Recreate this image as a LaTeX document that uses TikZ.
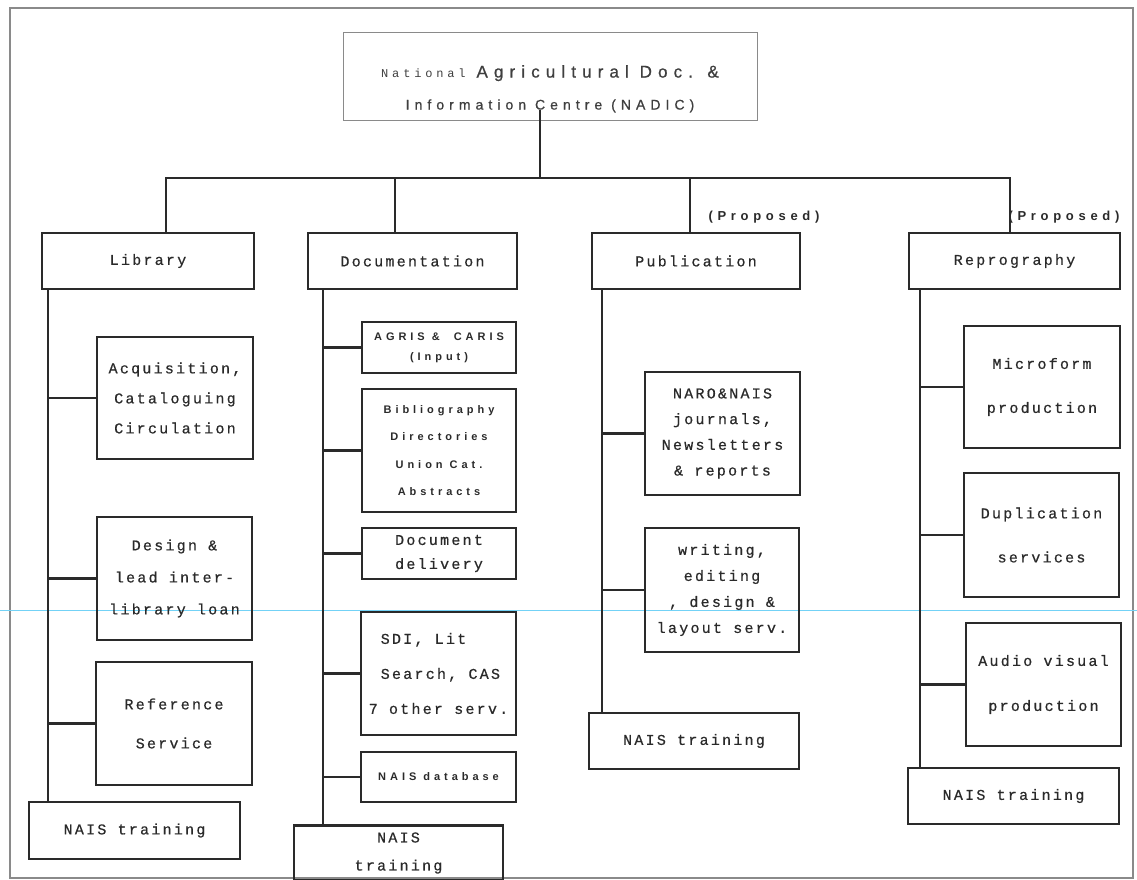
\documentclass[tikz,border=0pt]{standalone}
\usepackage{fontspec}
\newfontfamily\typew[LetterSpace=15,FakeBold=0.6]{Liberation Mono}
\newfontfamily\typewide[LetterSpace=32]{Liberation Mono}
\newfontfamily\sansw[LetterSpace=36]{Liberation Sans}
\newfontfamily\sanshead[LetterSpace=36,FakeBold=0.8]{Liberation Sans}
\definecolor{ink}{HTML}{2A2A2A}
\definecolor{frame}{HTML}{8A8A8A}

\begin{document}
\begin{tikzpicture}[x=1pt, y=-1pt,
    every node/.style = {shape=rectangle, draw=ink, line width=2.4pt,
      align=center, inner sep=0pt, text=ink},
    sz/.style 2 args = {minimum width=#1, minimum height=#2},
    twf/.style 2 args = {font=\typew\fontsize{#1}{#2}\selectfont},
    sbf/.style 2 args = {font=\sansw\bfseries\fontsize{#1}{#2}\selectfont}]
    \tikzstyle{wire}=[draw=ink, line width=2.4pt]

    \useasboundingbox (0,0) rectangle (1137,880);
    \draw[frame, line width=2.5pt] (10,8) rectangle (1133,878);
    \draw[cyan!55, line width=0.8pt] (0,610) -- (1137,610);

    % head of the chart
    \node[sz={414}{88}, draw=frame, line width=1pt, text=ink!90,
      font=\sanshead\fontsize{17}{32}\selectfont] (title) at (550,77)
      {\rule{0pt}{36pt}{\typewide\fontsize{12}{32}\selectfont National} Agricultural Doc. \&\\
       {\fontsize{14}{32}\selectfont Information Centre (NADIC)}};

    % divisions
    \node[sz={212}{56}, twf={15}{20}] (lib) at (148,261) {Library};
    \node[sz={209}{56}, twf={15}{20}] (doc) at (412.5,261) {Documentation};
    \node[sz={208}{56}, twf={15}{20}] (pub) at (696,261) {Publication};
    \node[sz={211}{56}, twf={15}{20}] (rep) at (1014.5,261) {Reprography};
    \node[draw=none, sbf={13}{14}] (propPub) at (764,217) {(Proposed)};
    \node[draw=none, sbf={13}{14}] (propRep) at (1064,217) {(Proposed)};

    % library
    \node[sz={156}{122}, twf={15}{30}] (acq) at (175,398) {Acquisition,\\Cataloguing\\Circulation};
    \node[sz={155}{123}, twf={15}{32}] (ill) at (174.5,578.5) {Design \&\\lead inter-\\library loan};
    \node[sz={156}{123}, twf={15}{39}] (ref) at (174,723.5) {Reference\\Service};
    \node[sz={211}{57}, twf={15}{20}] (libT) at (134.5,830.5) {NAIS training};

    % documentation
    \node[sz={154}{51}, sbf={11}{20}] (agr) at (439,347.5) {AGRIS \& \ CARIS\\(Input)};
    \node[sz={154}{123}, sbf={11}{27.5}] (bib) at (439,450.5) {Bibliography\\Directories\\Union Cat.\\Abstracts};
    \node[sz={154}{51}, twf={15}{24}] (ddl) at (439,553.5) {Document\\delivery};
    \node[sz={155}{123}, twf={15}{35}, align=left] (sdi) at (438.5,673.5)
      {\hspace{12pt}SDI, Lit\\\hspace{12pt}Search, CAS\\7 other serv.};
    \node[sz={155}{50}, sbf={11}{14}] (ndb) at (438.5,777) {NAIS database};
    \node[sz={209}{55}, twf={15}{28}] (docT) at (398.5,853) {NAIS\\training};

    % publication
    \node[sz={155}{123}, twf={15}{25.7}] (naro) at (722.5,433.5) {NARO\&NAIS\\journals,\\Newsletters\\\& reports};
    \node[sz={154}{124}, twf={15}{26}] (wri) at (722,590) {writing,\\editing\\, design \&\\layout serv.};
    \node[sz={210}{56}, twf={15}{20}] (pubT) at (694,741) {NAIS training};

    % reprography
    \node[sz={156}{122}, twf={15}{44}] (mic) at (1042,387) {Microform\\production};
    \node[sz={155}{124}, twf={15}{44}] (dup) at (1041.5,535) {Duplication\\services};
    \node[sz={155}{123}, twf={15}{45}] (av) at (1043.5,684.5) {Audio visual\\production};
    \node[sz={211}{56}, twf={15}{20}] (repT) at (1013.5,796) {NAIS training};

    % bus and drops
    \coordinate (bus) at (540,178);
    \coordinate (dLib) at (166,178);
    \coordinate (dDoc) at (395,178);
    \coordinate (dPub) at (690,178);
    \coordinate (dRep) at (1010,178);
    \draw[wire] ([yshift=11pt]title.south -| bus) -- (bus);
    \draw[wire] (dLib |- lib.north) -- (dLib) -- (dRep) -- (dRep |- rep.north);
    \draw[wire] (dDoc) -- (dDoc |- doc.north);
    \draw[wire] (dPub) -- (dPub |- pub.north);

    % spines
    \coordinate (sLib) at (48,0);
    \coordinate (sDoc) at (323,0);
    \coordinate (sPub) at (602,0);
    \coordinate (sRep) at (920,0);
    \draw[wire] (sLib |- lib.south) -- (sLib |- libT.north)
      (acq.west) -- (sLib |- acq.west)
      (ill.west) -- (sLib |- ill.west)
      (ref.west) -- (sLib |- ref.west);
    \draw[wire] (sDoc |- doc.south) -- (sDoc |- docT.north)
      (agr.west) -- (sDoc |- agr.west)
      (bib.west) -- (sDoc |- bib.west)
      (ddl.west) -- (sDoc |- ddl.west)
      (sdi.west) -- (sDoc |- sdi.west)
      (ndb.west) -- (sDoc |- ndb.west);
    \draw[wire] (sPub |- pub.south) -- (sPub |- pubT.north)
      (naro.west) -- (sPub |- naro.west)
      (wri.west) -- (sPub |- wri.west);
    \draw[wire] (sRep |- rep.south) -- (sRep |- repT.north)
      (mic.west) -- (sRep |- mic.west)
      (dup.west) -- (sRep |- dup.west)
      (av.west) -- (sRep |- av.west);
\end{tikzpicture}
\end{document}
